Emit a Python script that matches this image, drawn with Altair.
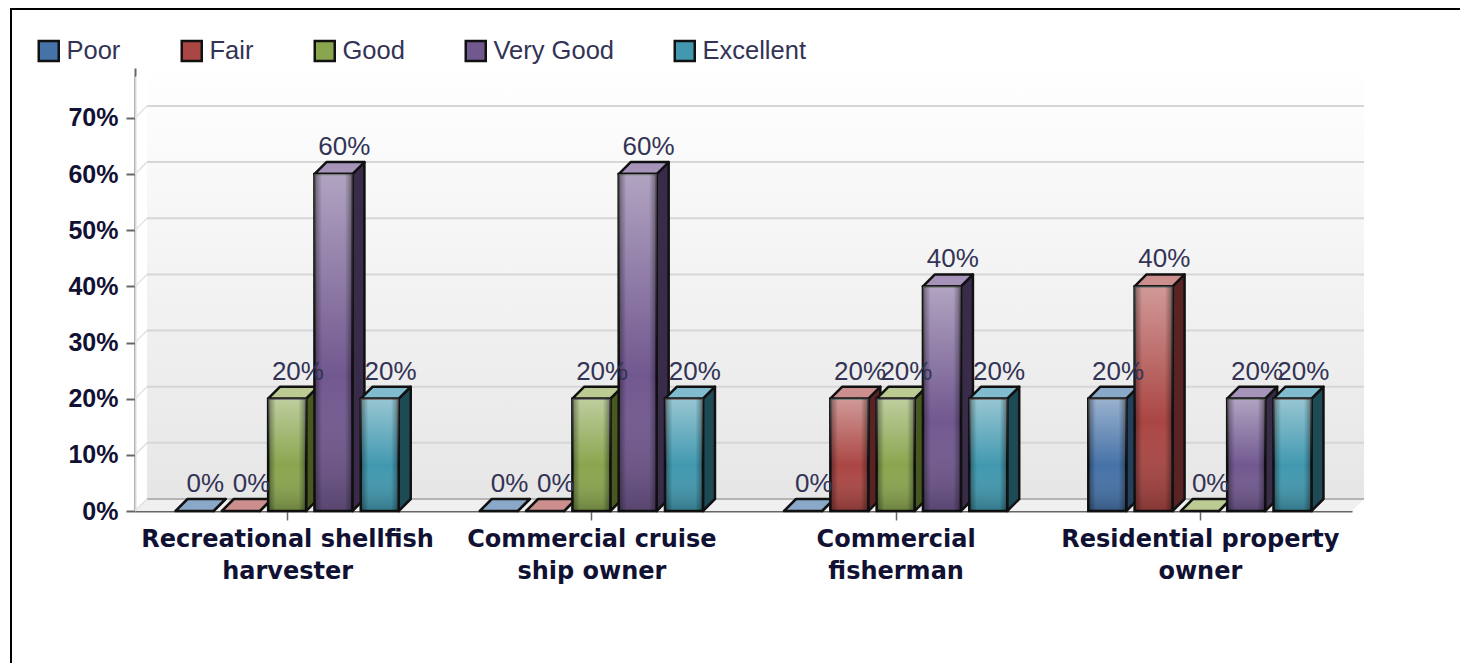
import altair as alt
import pandas as pd

categories = ["Recreational shellfish harvester", "Commercial cruise ship owner",
              "Commercial fisherman", "Residential property owner"]
label_lines = [["Recreational shellfish", "harvester"], ["Commercial cruise", "ship owner"],
               ["Commercial", "fisherman"], ["Residential property", "owner"]]
series = ["Poor", "Fair", "Good", "Very Good", "Excellent"]
poor = [0, 0, 0, 20]
fair = [0, 0, 20, 40]
good = [20, 20, 20, 0]
very_good = [60, 60, 40, 20]
excellent = [20, 20, 20, 20]
base_colors = ["#4572a7", "#aa4643", "#89a54e", "#71588f", "#4198af"]
top_colors = ["#8aa8c8", "#cc8f8d", "#bccb92", "#a593ba", "#80bccd"]
side_colors = ["#24405f", "#5a2323", "#47591f", "#392c4b", "#1e4a55"]

W, H = 1217, 443
YMAX = 78.9
GROUP = W / 4
DX = 12 / GROUP           # depth, in group units
DY = 12 * YMAX / H        # depth, in percent units
STEP = 46.3 / GROUP
HALF = 19 / GROUP

values = [poor, fair, good, very_good, excellent]
front, side, top, labels = [], [], [], []
for j, s in enumerate(series):
    for i, c in enumerate(categories):
        v = values[j][i]
        cx = i + 0.5 + (j - 2) * STEP
        l, r = cx - HALF, cx + HALF
        bid = f"{j}-{i}"
        front.append(dict(series=s, x=l, x2=r, v=v))
        labels.append(dict(x=cx + DX * 0.9, v=v + DY, t=f"{v}%"))
        side += [dict(id=bid, x=r, y=0, y2=v, c=side_colors[j]),
                 dict(id=bid, x=r + DX, y=DY, y2=v + DY, c=side_colors[j])]
        top += [dict(id=bid, y=v, x=l, x2=r, c=top_colors[j]),
                dict(id=bid, y=v + DY, x=l + DX, x2=r + DX, c=top_colors[j])]
front, side, top, labels = map(pd.DataFrame, (front, side, top, labels))

xs = alt.Scale(domain=[0, 4], nice=False, zero=False)
ys = alt.Scale(domain=[0, YMAX], nice=False)
X = alt.X("x:Q", scale=xs, title=None)
Y = alt.Y("y:Q", scale=ys, title=None)

ticks = [0, 10, 20, 30, 40, 50, 60, 70]
WALL_TOP = 79.4
wall_grad = alt.Gradient(gradient="linear", x1=0, y1=0, x2=0, y2=1,
                         stops=[alt.GradientStop(color="#ffffff", offset=0),
                                alt.GradientStop(color="#e6e6e6", offset=1)])

names = str(label_lines).replace('"', "'")
axis_layer = alt.Chart(pd.DataFrame({"x": [0.5], "y": [0]})).mark_point(opacity=0).encode(
    x=alt.X("x:Q", scale=xs, title=None, axis=alt.Axis(
        values=[0.5, 1.5, 2.5, 3.5], grid=False, domainColor="#666666", domainWidth=2, tickColor="#666666",
        tickWidth=1.5, tickSize=9, labelFont="DejaVu Sans", labelFontWeight="bold", labelFontSize=24,
        labelColor="#111133", labelPadding=7, labelLineHeight=32, labelBaseline="top", labelAngle=0, labelLimit=500,
        labelExpr=f"{names}[floor(datum.value)]", labelOverlap=False, labelBound=False, labelFlush=False)),
    y=alt.Y("y:Q", scale=ys, title=None, axis=alt.Axis(
        values=ticks, grid=False, domainColor="#666666", domainWidth=2, tickColor="#666666",
        tickWidth=2, tickSize=9, labelFont="Liberation Sans", labelFontWeight="bold", labelFontSize=25,
        labelColor="#111133", labelPadding=8, labelExpr="datum.value + '%'")))

wall = alt.Chart(pd.DataFrame([dict(x=DX, x2=4 + DX, y=DY, y2=WALL_TOP)])).mark_rect(fill=wall_grad).encode(
    x=X, x2="x2:Q", y=Y, y2="y2:Q")
floor = alt.Chart(pd.DataFrame([dict(y=0, x=0, x2=4), dict(y=DY, x=DX, x2=4 + DX)])).mark_area(
    orient="horizontal", fill="#f0f0f0").encode(x=X, x2="x2:Q", y=Y)
sidewall = alt.Chart(pd.DataFrame([dict(x=0, y=0, y2=WALL_TOP - DY), dict(x=DX, y=DY, y2=WALL_TOP)])).mark_area(
    fill="#ffffff", opacity=0.75).encode(x=X, y=Y, y2="y2:Q")
grid = alt.Chart(pd.DataFrame([dict(y=t + DY, x=DX, x2=4 + DX) for t in ticks if t > 0])).mark_rule(
    color="#d6d6d6", strokeWidth=2).encode(x=X, x2="x2:Q", y=Y)
grid0 = alt.Chart(pd.DataFrame([dict(y=DY, x=DX, x2=4 + DX)])).mark_rule(
    color="#b4b4b4", strokeWidth=2).encode(x=X, x2="x2:Q", y=Y)
slant = alt.Chart(pd.DataFrame([r for t in ticks for r in (dict(t=t, x=0, y=t), dict(t=t, x=DX, y=t + DY))])).mark_line(
    color="#e2e2e2", strokeWidth=1.5).encode(x=X, y=Y, detail="t:N")

sides = alt.Chart(side).mark_area(stroke="#111111", strokeWidth=2.5, strokeJoin="round").encode(
    x=X, y=Y, y2="y2:Q", detail="id:N", fill=alt.Fill("c:N", scale=None, legend=None))
tops = alt.Chart(top).mark_area(orient="horizontal", stroke="#111111", strokeWidth=2.5, strokeJoin="round").encode(
    x=X, x2="x2:Q", y=Y, detail="id:N", fill=alt.Fill("c:N", scale=None, legend=None))

legend = alt.Legend(title=None, orient="none", legendX=-99, legendY=-30, direction="horizontal", columns=5,
                    columnPadding=55, symbolType="square", symbolSize=400, symbolStrokeWidth=2.5,
                    symbolStrokeColor="#111111", labelFont="Liberation Sans", labelFontSize=25.5,
                    labelColor="#333355", labelOffset=5, symbolOpacity=1)
y0 = alt.Y("v:Q", scale=ys, title=None)
fronts_base = alt.Chart(front)
bars = fronts_base.transform_filter("datum.v > 0").mark_rect(stroke="#111111", strokeWidth=2.5).encode(
    x=X, x2="x2:Q", y=y0, y2=alt.Y2(datum=0),
    fill=alt.Fill("series:N", scale=alt.Scale(domain=series, range=base_colors), sort=series, legend=legend))
vert = alt.Gradient(gradient="linear", x1=0, y1=0, x2=0, y2=1,
                    stops=[alt.GradientStop(color="rgba(255,255,255,0.45)", offset=0),
                           alt.GradientStop(color="rgba(255,255,255,0)", offset=0.6),
                           alt.GradientStop(color="rgba(0,0,0,0.22)", offset=1)])
horiz = alt.Gradient(gradient="linear", x1=0, y1=0, x2=1, y2=0,
                     stops=[alt.GradientStop(color="rgba(0,0,0,0.4)", offset=0),
                            alt.GradientStop(color="rgba(0,0,0,0)", offset=0.2),
                            alt.GradientStop(color="rgba(0,0,0,0)", offset=0.8),
                            alt.GradientStop(color="rgba(0,0,0,0.4)", offset=1)])
shade1 = fronts_base.transform_filter("datum.v > 0").mark_rect(fill=vert).encode(
    x=X, x2="x2:Q", y=y0, y2=alt.Y2(datum=0))
shade2 = fronts_base.transform_filter("datum.v > 0").mark_rect(fill=horiz).encode(
    x=X, x2="x2:Q", y=y0, y2=alt.Y2(datum=0))

text = alt.Chart(labels).mark_text(font="Liberation Sans", fontSize=26, color="#333355", dy=-2, baseline="bottom").encode(
    x=X, y=y0, text="t:N")

frame = alt.Chart(pd.DataFrame({"a": [0]})).mark_rule(color="#000000", strokeWidth=2)
frame_t = frame.encode(x=alt.value(-124), x2=alt.value(1340), y=alt.value(-59))
frame_l = frame.encode(x=alt.value(-124), y=alt.value(-60), y2=alt.value(600))

chart = alt.layer(axis_layer, frame_t, frame_l, wall, floor, sidewall, grid, grid0, slant,
                  sides, tops, bars, shade1, shade2, text).resolve_scale(fill="independent").properties(
    width=W, height=H,
    autosize=alt.AutoSizeParams(type="none"),
    padding={"left": 127, "top": 60, "right": 108, "bottom": 152},
    background="white",
).configure_view(stroke=None)

chart.save("out.html", embed_options={"renderer": "svg", "actions": False})
